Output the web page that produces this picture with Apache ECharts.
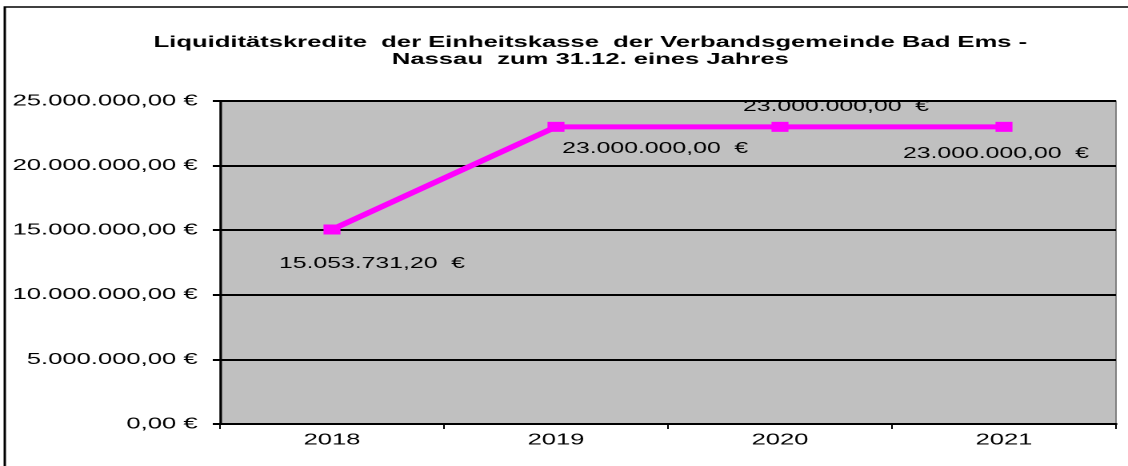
<!DOCTYPE html>
<html>
<head>
<meta charset="utf-8">
<script src="https://cdn.jsdelivr.net/npm/echarts@6/dist/echarts.min.js"></script>
<style>
  html, body { margin: 0; padding: 0; background: #fff; overflow: hidden; }
  /* the original chart is horizontally stretched, so draw narrow and scale in x */
  #chart { width: 705px; height: 466px; transform: scaleX(1.6); transform-origin: 0 0; }
</style>
</head>
<body>
<div id="chart"></div>
<script>
const years = ['2018', '2019', '2020', '2021']
const kredite = [15053731.20, 23000000, 23000000, 23000000]
const yTicks = [0, 5000000, 10000000, 15000000, 20000000, 25000000]

// label offsets (in unstretched px)
const labelOffsets = [[25, 34], [62, 22], [35, -20], [-5, 27]]

// deutsche Zahlenformatierung 1.234.567,89
function fmt (v) {
  const parts = v.toFixed(2).split('.')
  const int = parts[0].replace(/\B(?=(\d{3})+(?!\d))/g, '.')
  return int + ',' + parts[1]
}

const font = 'Liberation Sans'
const chart = echarts.init(document.getElementById('chart'), null, { devicePixelRatio: 2 })
chart.setOption({
  animation: false,
  title: {
    text: 'Liquiditätskredite  der Einheitskasse  der Verbandsgemeinde Bad Ems -\nNassau  zum 31.12. eines Jahres',
    left: 364,
    top: 29,
    textAlign: 'center',
    textStyle: { fontFamily: font, fontWeight: 'bold', fontSize: 16, lineHeight: 17, color: '#000' }
  },
  graphic: [
    { type: 'rect', shape: { x: 3, y: 7, width: 900, height: 600 }, style: { fill: 'none', stroke: '#000', lineWidth: 1.5 }, z: -1 }
  ],
  grid: { left: 137.5, right: 7.5, top: 101, bottom: 42, show: true, backgroundColor: '#c0c0c0', borderColor: '#808080', borderWidth: 1 },
  xAxis: {
    type: 'category',
    data: years,
    boundaryGap: true,
    axisLine: { lineStyle: { color: '#000', width: 2 } },
    axisTick: { show: true, length: 5, lineStyle: { color: '#000' } },
    axisLabel: { margin: 8, fontFamily: font, fontSize: 16, color: '#000' }
  },
  yAxis: {
    type: 'value',
    min: yTicks[0],
    max: yTicks[yTicks.length - 1],
    interval: yTicks[1] - yTicks[0],
    axisLine: { show: true, lineStyle: { color: '#000', width: 1.5 } },
    axisTick: { show: true, length: 4.5, lineStyle: { color: '#000', width: 2 } },
    splitLine: { lineStyle: { color: '#000', width: 2 } },
    axisLabel: {
      margin: 14,
      fontFamily: font,
      fontSize: 16,
      color: '#000',
      formatter: v => fmt(v) + ' €'
    }
  },
  series: [{
    type: 'line',
    data: kredite.map((v, i) => ({
      value: v,
      label: { offset: labelOffsets[i] }
    })),
    symbol: 'rect',
    symbolSize: [10.6, 10],
    lineStyle: { color: '#ff00ff', width: 5 },
    itemStyle: { color: '#ff00ff' },
    label: {
      show: true,
      position: 'inside',
      fontFamily: font,
      fontSize: 15.5,
      color: '#000',
      formatter: p => fmt(p.value) + '  €'
    }
  }]
})
</script>
</body>
</html>
